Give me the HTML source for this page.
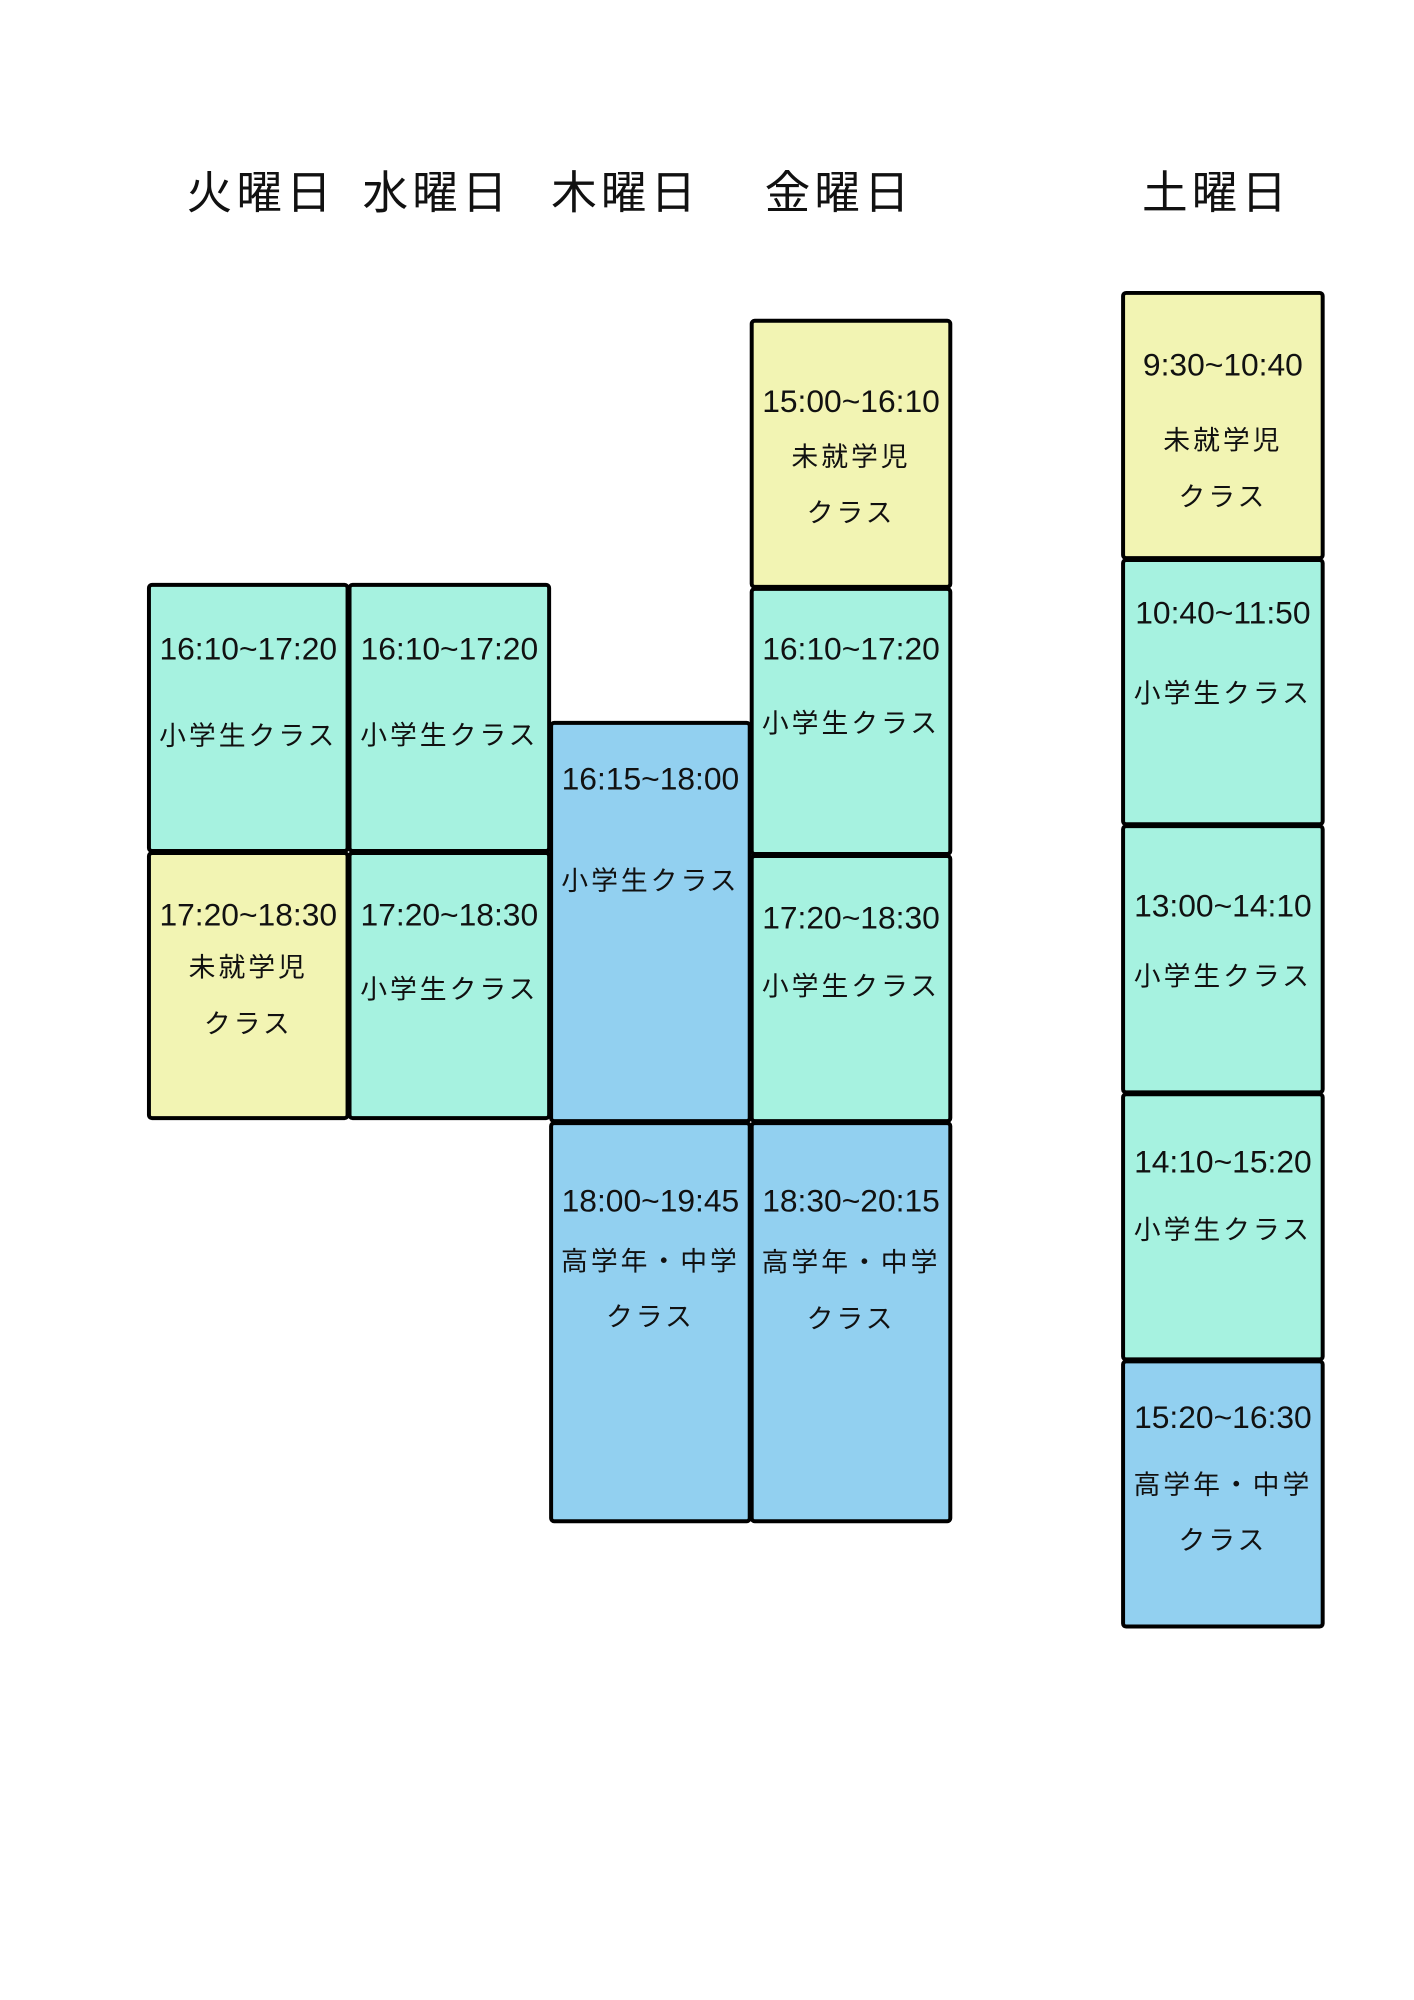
<!DOCTYPE html>
<html><head><meta charset="utf-8"><style>
html,body{margin:0;padding:0;background:#fff;}
body{width:1414px;height:2000px;position:relative;overflow:hidden;font-family:"Liberation Sans","Noto Sans CJK JP",sans-serif;color:#111;}
#w{position:absolute;left:0;top:0;width:1414px;height:2000px;transform:scale(0.993);transform-origin:0 0;}
.h{position:absolute;top:158px;font-size:46px;letter-spacing:4px;transform:translateX(-50%);white-space:nowrap;font-family:"Noto Sans CJK JP",sans-serif;font-weight:400;}
.b{position:absolute;box-sizing:border-box;border:4px solid #000;border-radius:5px;}
.y{background:#f2f4b3}.t{background:#a6f2e0}.u{background:#92d0f0}
.l{position:absolute;left:0;right:0;text-align:center;white-space:nowrap;transform:translateY(-50%);line-height:1;}
.tm{font-size:32px;}
.jp{font-size:27px;letter-spacing:3px;font-family:"Noto Sans CJK JP",sans-serif;}
</style></head><body><div id="w">
<div class="h" style="left:263px">火曜日</div>
<div class="h" style="left:440px">水曜日</div>
<div class="h" style="left:630px">木曜日</div>
<div class="h" style="left:845px">金曜日</div>
<div class="h" style="left:1225px">土曜日</div>

<div class="b t" style="left:148px;top:587px;width:204px;height:272px">
<div class="l tm" style="top:62px">16:10~17:20</div><div class="l jp" style="top:148px">小学生クラス</div></div>
<div class="b y" style="left:148px;top:857px;width:204px;height:271px">
<div class="l tm" style="top:60px">17:20~18:30</div><div class="l jp" style="top:111px">未就学児</div><div class="l jp" style="top:168px">クラス</div></div>
<div class="b t" style="left:350px;top:587px;width:205px;height:272px">
<div class="l tm" style="top:62px">16:10~17:20</div><div class="l jp" style="top:147px">小学生クラス</div></div>
<div class="b t" style="left:350px;top:857px;width:205px;height:271px">
<div class="l tm" style="top:60px">17:20~18:30</div><div class="l jp" style="top:133px">小学生クラス</div></div>
<div class="b u" style="left:553px;top:726px;width:204px;height:405px">
<div class="l tm" style="top:54px">16:15~18:00</div><div class="l jp" style="top:155px">小学生クラス</div></div>
<div class="b u" style="left:553px;top:1129px;width:204px;height:405px">
<div class="l tm" style="top:76px">18:00~19:45</div><div class="l jp" style="top:135px">高学年・中学</div><div class="l jp" style="top:191px">クラス</div></div>
<div class="b y" style="left:755px;top:321px;width:204px;height:272px">
<div class="l tm" style="top:79px">15:00~16:10</div><div class="l jp" style="top:133px">未就学児</div><div class="l jp" style="top:189px">クラス</div></div>
<div class="b t" style="left:755px;top:591px;width:204px;height:271px">
<div class="l tm" style="top:58px">16:10~17:20</div><div class="l jp" style="top:131px">小学生クラス</div></div>
<div class="b t" style="left:755px;top:860px;width:204px;height:271px">
<div class="l tm" style="top:60px">17:20~18:30</div><div class="l jp" style="top:127px">小学生クラス</div></div>
<div class="b u" style="left:755px;top:1129px;width:204px;height:405px">
<div class="l tm" style="top:76px">18:30~20:15</div><div class="l jp" style="top:136px">高学年・中学</div><div class="l jp" style="top:193px">クラス</div></div>
<div class="b y" style="left:1129px;top:293px;width:205px;height:271px">
<div class="l tm" style="top:70px">9:30~10:40</div><div class="l jp" style="top:144px">未就学児</div><div class="l jp" style="top:201px">クラス</div></div>
<div class="b t" style="left:1129px;top:562px;width:205px;height:270px">
<div class="l tm" style="top:51px">10:40~11:50</div><div class="l jp" style="top:130px">小学生クラス</div></div>
<div class="b t" style="left:1129px;top:830px;width:205px;height:272px">
<div class="l tm" style="top:78px">13:00~14:10</div><div class="l jp" style="top:147px">小学生クラス</div></div>
<div class="b t" style="left:1129px;top:1100px;width:205px;height:271px">
<div class="l tm" style="top:66px">14:10~15:20</div><div class="l jp" style="top:132px">小学生クラス</div></div>
<div class="b u" style="left:1129px;top:1369px;width:205px;height:271px">
<div class="l tm" style="top:54px">15:20~16:30</div><div class="l jp" style="top:120px">高学年・中学</div><div class="l jp" style="top:176px">クラス</div></div>
</div></body></html>
